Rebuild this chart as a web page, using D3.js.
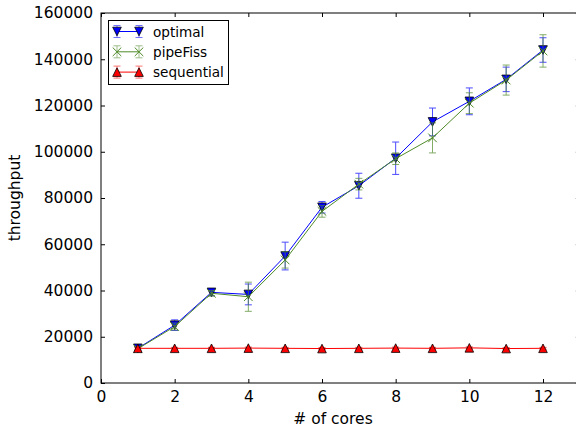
<!DOCTYPE html>
<html>
<head>
<meta charset="utf-8">
<script src="https://cdn.jsdelivr.net/npm/d3@7"></script>
<style>
  html, body { margin: 0; padding: 0; background: #fff; }
  svg { display: block; font-family: "DejaVu Sans", sans-serif; }
</style>
</head>
<body>
<svg id="chart" width="576" height="428"></svg>
<script>
// Throughput versus number of cores, with error bars
const cores = [1, 2, 3, 4, 5, 6, 7, 8, 9, 10, 11, 12];
const optimal = [15000, 25000, 39200, 38300, 54900, 76000, 85300, 97200, 112900, 121800, 131300, 144000];
const optimalErr = [1000, 2300, 1500, 4500, 6000, 2500, 5400, 7000, 6000, 5800, 5300, 5300];
const pipeFiss = [14800, 24400, 38800, 37300, 53200, 74200, 86000, 97000, 106000, 121000, 131000, 143600];
const pipeFissErr = [1000, 1500, 1200, 6300, 3500, 2500, 2500, 2500, 6500, 4500, 6500, 7000];
const sequential = [15000, 15000, 15000, 15100, 15000, 14900, 15000, 15100, 15000, 15200, 14900, 15000];
const sequentialErr = [400, 400, 400, 400, 400, 400, 400, 400, 400, 400, 400, 400];
const xTicks = [0, 2, 4, 6, 8, 10, 12];
const yTicks = [0, 20000, 40000, 60000, 80000, 100000, 120000, 140000, 160000];

const series = [
  { name: "optimal", values: optimal, err: optimalErr, color: "#0000ff", marker: "down" },
  { name: "pipeFiss", values: pipeFiss, err: pipeFissErr, color: "#4f8a28", marker: "x" },
  { name: "sequential", values: sequential, err: sequentialErr, color: "#ff0000", marker: "up" }
];

const plotLeft = 101, plotTop = 13, plotBottom = 383;
const unit = 442 / 12;
const x = d3.scaleLinear().domain([0, 13]).range([plotLeft, plotLeft + 13 * unit]);
const y = d3.scaleLinear().domain([0, 160000]).range([plotBottom, plotTop]);

const svg = d3.select("#chart");

// inward ticks on all four sides
const tickLen = 4;
svg.append("g").attr("transform", `translate(0,${plotBottom})`)
  .call(d3.axisBottom(x).tickValues(xTicks).tickSizeInner(-tickLen).tickSizeOuter(0).tickPadding(8).tickFormat(d3.format("d")))
  .call(g => g.select(".domain").remove());
svg.append("g").attr("transform", `translate(0,${plotTop})`)
  .call(d3.axisTop(x).tickValues(xTicks).tickSizeInner(-tickLen).tickSizeOuter(0).tickFormat(""))
  .call(g => g.select(".domain").remove());
svg.append("g").attr("transform", `translate(${plotLeft},0)`)
  .call(d3.axisLeft(y).tickValues(yTicks).tickSizeInner(-tickLen).tickSizeOuter(0).tickPadding(8).tickFormat(d3.format("d")))
  .call(g => g.select(".domain").remove());
svg.append("g").attr("transform", `translate(${x(13)},0)`)
  .call(d3.axisRight(y).tickValues(yTicks).tickSizeInner(-tickLen).tickSizeOuter(0).tickFormat(""))
  .call(g => g.select(".domain").remove());

svg.selectAll(".tick line").attr("stroke", "#000").attr("stroke-width", 1);
svg.selectAll(".tick text").attr("fill", "#000").attr("font-size", 15.5).attr("font-family", "DejaVu Sans, sans-serif");

// frame
svg.append("rect")
  .attr("x", plotLeft).attr("y", plotTop)
  .attr("width", x(13) - plotLeft).attr("height", plotBottom - plotTop)
  .attr("fill", "none").attr("stroke", "#000").attr("stroke-width", 1);

function drawMarker(g, kind, cx, cy, color, s) {
  if (kind === "x") {
    g.append("path")
      .attr("d", `M${cx - s},${cy - s}L${cx + s},${cy + s}M${cx - s},${cy + s}L${cx + s},${cy - s}`)
      .attr("stroke", color).attr("stroke-width", 1).attr("fill", "none");
  } else {
    const h = s;
    const pts = kind === "down"
      ? [[cx - s, cy - h], [cx + s, cy - h], [cx, cy + h]]
      : [[cx - s, cy + h], [cx + s, cy + h], [cx, cy - h]];
    g.append("path")
      .attr("d", "M" + pts.map(p => p.join(",")).join("L") + "Z")
      .attr("fill", color).attr("stroke", "#000").attr("stroke-width", 0.8);
  }
}

const capW = 3.5;
const line = d3.line().x((d, i) => x(cores[i])).y(d => y(d));

series.forEach(s => {
  const g = svg.append("g");
  // error bars
  s.values.forEach((v, i) => {
    const cx = x(cores[i]);
    const y0 = y(v - s.err[i]), y1 = y(v + s.err[i]);
    const eb = g.append("g").attr("stroke", s.color).attr("stroke-width", 1).attr("opacity", 0.7);
    eb.append("line").attr("x1", cx).attr("x2", cx).attr("y1", y0).attr("y2", y1);
    eb.append("line").attr("x1", cx - capW).attr("x2", cx + capW).attr("y1", y0).attr("y2", y0);
    eb.append("line").attr("x1", cx - capW).attr("x2", cx + capW).attr("y1", y1).attr("y2", y1);
  });
  g.append("path").datum(s.values)
    .attr("d", line).attr("fill", "none").attr("stroke", s.color).attr("stroke-width", 1);
  s.values.forEach((v, i) => drawMarker(g, s.marker, x(cores[i]), y(v), s.color, 4.3));
});

// axis titles
svg.append("text").attr("x", 333).attr("y", 424).attr("text-anchor", "middle")
  .attr("font-size", 15.5).text("# of cores");
svg.append("text").attr("transform", `translate(20,${(plotTop + plotBottom) / 2}) rotate(-90)`)
  .attr("text-anchor", "middle").attr("font-size", 15.5).text("throughput");

// legend
const lg = svg.append("g");
lg.append("rect").attr("x", 108.5).attr("y", 20.5).attr("width", 120).attr("height", 64)
  .attr("fill", "#fff").attr("stroke", "#000").attr("stroke-width", 1);
series.forEach((s, k) => {
  const ly = 31.5 + k * 20.3;
  const x0 = 117, x1 = 139;
  const eb = lg.append("g").attr("stroke", s.color).attr("stroke-width", 1).attr("opacity", 0.55);
  [x0, x1].forEach(xx => {
    eb.append("line").attr("x1", xx).attr("x2", xx).attr("y1", ly - 6).attr("y2", ly + 6);
    eb.append("line").attr("x1", xx - capW).attr("x2", xx + capW).attr("y1", ly - 6).attr("y2", ly - 6);
    eb.append("line").attr("x1", xx - capW).attr("x2", xx + capW).attr("y1", ly + 6).attr("y2", ly + 6);
  });
  lg.append("line").attr("x1", x0).attr("x2", x1).attr("y1", ly).attr("y2", ly)
    .attr("stroke", s.color).attr("stroke-width", 1);
  drawMarker(lg, s.marker, x0, ly, s.color, 4.3);
  drawMarker(lg, s.marker, x1, ly, s.color, 4.3);
  lg.append("text").attr("x", 153).attr("y", ly + 5).attr("font-size", 13.6).text(s.name);
});
</script>
</body>
</html>
